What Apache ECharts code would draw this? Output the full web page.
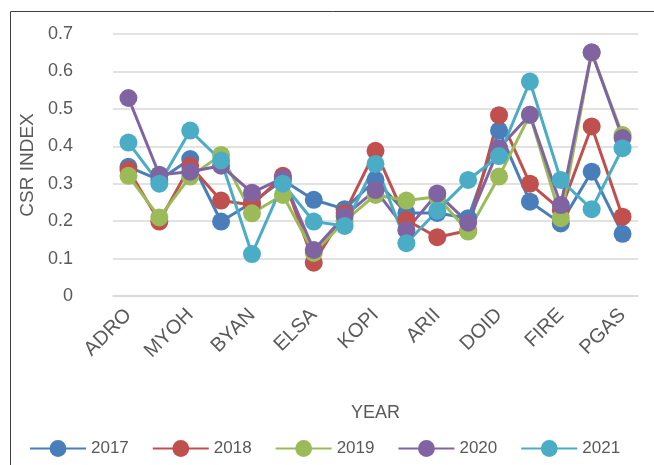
<!DOCTYPE html>
<html>
<head>
<meta charset="utf-8">
<script src="https://cdn.jsdelivr.net/npm/echarts@6/dist/echarts.min.js"></script>
<style>
  html, body { margin: 0; padding: 0; background: #fff; }
  #chart { width: 654px; height: 465px; }
</style>
</head>
<body>
<div id="chart"></div>
<script>
// visible tick labels (every second category carries a label)
var tickLabels = ['ADRO', 'MYOH', 'BYAN', 'ELSA', 'KOPI', 'ARII', 'DOID', 'FIRE', 'PGAS'];
var years = ['2017', '2018', '2019', '2020', '2021'];
var colors = ['#4a7ebb', '#c0504d', '#9bbb59', '#8064a2', '#4bacc6'];

var csr2017 = [0.345, 0.31, 0.366, 0.199, 0.25, 0.31, 0.257, 0.232, 0.31, 0.222, 0.222, 0.208, 0.442, 0.252, 0.194, 0.332, 0.166];
var csr2018 = [0.337, 0.199, 0.348, 0.255, 0.243, 0.321, 0.089, 0.222, 0.388, 0.203, 0.157, 0.175, 0.483, 0.30, 0.23, 0.453, 0.212];
var csr2019 = [0.321, 0.21, 0.319, 0.377, 0.221, 0.27, 0.115, 0.2, 0.27, 0.255, 0.265, 0.172, 0.319, 0.484, 0.208, 0.65, 0.43];
var csr2020 = [0.529, 0.324, 0.332, 0.348, 0.276, 0.315, 0.123, 0.214, 0.283, 0.176, 0.274, 0.196, 0.395, 0.484, 0.243, 0.651, 0.422];
var csr2021 = [0.41, 0.30, 0.442, 0.362, 0.112, 0.30, 0.199, 0.187, 0.353, 0.141, 0.228, 0.31, 0.374, 0.573, 0.31, 0.232, 0.395];

var seriesValues = [csr2017, csr2018, csr2019, csr2020, csr2021];

// 17 category slots, labels only on the even ones
var categories = [];
for (var i = 0; i < tickLabels.length; i++) {
    categories.push(tickLabels[i]);
    if (i < tickLabels.length - 1) categories.push('');
}

var textColor = '#595959';
var font = 'Liberation Sans';

var chart = echarts.init(document.getElementById('chart'));

var series = [];
for (var s = 0; s < years.length; s++) {
    series.push({
        name: years[s],
        type: 'line',
        data: seriesValues[s],
        symbol: 'circle',
        symbolSize: 18,
        lineStyle: { width: 3, color: colors[s] },
        itemStyle: { color: colors[s] },
        emphasis: { disabled: true }
    });
}

chart.setOption({
    animation: false,
    color: colors,
    textStyle: { fontFamily: font },
    graphic: [{
        type: 'rect',
        shape: { x: 10.5, y: 11.5, width: 700, height: 500 },
        style: { fill: 'none', stroke: '#404040', lineWidth: 1 },
        silent: true
    }],
    grid: { left: 113, right: 16, top: 34, bottom: 169, containLabel: false },
    legend: {
        data: years,
        left: 24,
        top: 435,
        itemWidth: 56,
        itemHeight: 21,
        itemGap: 23,
        textStyle: { color: textColor, fontSize: 17, fontFamily: font }
    },
    xAxis: {
        type: 'category',
        data: categories,
        boundaryGap: true,
        name: 'YEAR',
        nameLocation: 'middle',
        nameGap: 108,
        nameTextStyle: { color: textColor, fontSize: 18, fontFamily: font },
        axisLine: { lineStyle: { color: '#d9d9d9', width: 1.5 } },
        axisTick: { show: false },
        axisLabel: {
            interval: 0,
            rotate: 45,
            margin: 16,
            color: textColor,
            fontSize: 20,
            fontFamily: font
        }
    },
    yAxis: {
        type: 'value',
        min: 0,
        max: 0.7,
        interval: 0.1,
        name: 'CSR INDEX',
        nameLocation: 'middle',
        nameGap: 68,
        nameTextStyle: { color: textColor, fontSize: 19, fontFamily: font },
        axisLine: { show: false },
        axisTick: { show: false },
        splitLine: { lineStyle: { color: '#d9d9d9', width: 1.5 } },
        axisLabel: {
            margin: 40,
            color: textColor,
            fontSize: 18,
            fontFamily: font,
            formatter: function (v) {
                return v === 0 ? '0' : v.toFixed(1);
            }
        }
    },
    series: series
});
</script>
</body>
</html>
